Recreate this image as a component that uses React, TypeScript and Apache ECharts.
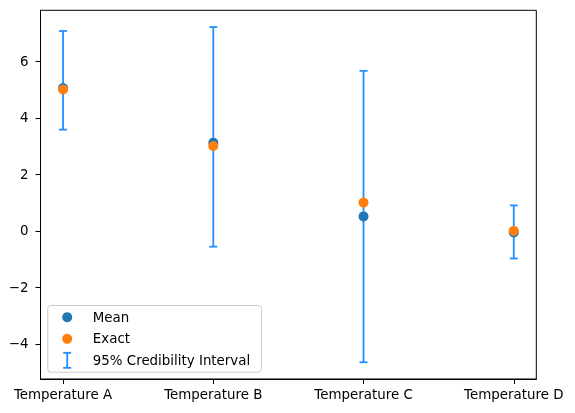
import React, { useEffect, useRef } from 'react';
import * as echarts from 'echarts';

const categories = ['Temperature A', 'Temperature B', 'Temperature C', 'Temperature D'];
const meanValues = [5.05, 3.12, 0.51, -0.06];
const exactValues = [5.0, 3.0, 1.0, 0.0];
const lowerBounds = [3.58, -0.56, -4.65, -0.98];
const upperBounds = [7.07, 7.21, 5.66, 0.9];
const yTicks = [-4, -2, 0, 2, 4, 6];
const legendLabels = ['Mean', 'Exact', '95% Credibility Interval'];

const FONT = '"DejaVu Sans", sans-serif';
const ERR_COLOR = '#1e90ff';
const MEAN_COLOR = '#1f77b4';
const EXACT_COLOR = '#ff7f0e';

export default function App() {
  const ref = useRef<HTMLDivElement>(null);

  useEffect(() => {
    if (!ref.current) return;
    const chart = echarts.init(ref.current, null, { renderer: 'svg' });

    // matplotlib-style 5% margins around the data
    const yLo = Math.min(...lowerBounds);
    const yHi = Math.max(...upperBounds);
    const pad = (yHi - yLo) * 0.05;

    const errData = categories.map((_, i) => [i, lowerBounds[i], upperBounds[i]]);
    const axisLine = { show: true, onZero: false, lineStyle: { color: '#000', width: 1 } };

    chart.setOption({
      animation: false,
      grid: {
        left: 40.5, right: 38.7, top: 10.3, bottom: 34,
        show: true, borderColor: '#000', borderWidth: 1, backgroundColor: 'transparent',
      },
      xAxis: {
        type: 'value', min: -0.15, max: categories.length - 1 + 0.15,
        axisLine,
        splitLine: { show: false },
        axisTick: { show: true, length: 5, lineStyle: { color: '#000', width: 1 }, customValues: categories.map((_, i) => i) },
        axisLabel: {
          customValues: categories.map((_, i) => i),
          formatter: (v: number) => categories[Math.round(v)] ?? '',
          color: '#000', fontFamily: FONT, fontSize: 13.4, margin: 9,
        },
      },
      yAxis: {
        type: 'value', min: yLo - pad, max: yHi + pad,
        axisLine,
        splitLine: { show: false },
        axisTick: { show: true, length: 5, lineStyle: { color: '#000', width: 1 }, customValues: yTicks },
        axisLabel: {
          customValues: yTicks,
          formatter: (v: number) => String(v).replace('-', '\u2212'),
          color: '#000', fontFamily: FONT, fontSize: 13.4, margin: 12,
        },
      },
      series: [
        {
          name: legendLabels[2],
          type: 'custom',
          z: 1,
          data: errData,
          encode: { x: 0, y: [1, 2] },
          renderItem: (params: any, api: any) => {
            const x = api.value(0);
            const lo = api.coord([x, api.value(1)]);
            const hi = api.coord([x, api.value(2)]);
            const cap = 4;
            const style = { stroke: ERR_COLOR, lineWidth: 1.8 };
            return {
              type: 'group',
              children: [
                { type: 'line', shape: { x1: lo[0], y1: lo[1], x2: hi[0], y2: hi[1] }, style },
                { type: 'line', shape: { x1: lo[0] - cap, y1: lo[1], x2: lo[0] + cap, y2: lo[1] }, style },
                { type: 'line', shape: { x1: hi[0] - cap, y1: hi[1], x2: hi[0] + cap, y2: hi[1] }, style },
              ],
            };
          },
        },
        {
          name: legendLabels[0],
          type: 'scatter',
          z: 2,
          symbol: 'circle',
          symbolSize: 10,
          itemStyle: { color: MEAN_COLOR, opacity: 1 },
          data: meanValues.map((v, i) => [i, v]),
        },
        {
          name: legendLabels[1],
          type: 'scatter',
          z: 3,
          symbol: 'circle',
          symbolSize: 10,
          itemStyle: { color: EXACT_COLOR, opacity: 1 },
          data: exactValues.map((v, i) => [i, v]),
        },
      ],
      graphic: [
        {
          type: 'group',
          left: 47.3,
          top: 305,
          z: 100,
          children: [
            { type: 'rect', shape: { x: 0, y: 0, width: 213.7, height: 66.7, r: 3 }, style: { fill: 'rgba(255,255,255,0.8)', stroke: '#cccccc', lineWidth: 1 } },
            { type: 'circle', shape: { cx: 19.4, cy: 11.7, r: 5 }, style: { fill: MEAN_COLOR } },
            { type: 'circle', shape: { cx: 19.4, cy: 33.3, r: 5 }, style: { fill: EXACT_COLOR } },
            { type: 'line', shape: { x1: 19.4, y1: 47.3, x2: 19.4, y2: 62.3 }, style: { stroke: ERR_COLOR, lineWidth: 1.8 } },
            { type: 'line', shape: { x1: 15.4, y1: 47.3, x2: 23.4, y2: 47.3 }, style: { stroke: ERR_COLOR, lineWidth: 1.8 } },
            { type: 'line', shape: { x1: 15.4, y1: 62.3, x2: 23.4, y2: 62.3 }, style: { stroke: ERR_COLOR, lineWidth: 1.8 } },
            ...legendLabels.map((t, i) => ({
              type: 'text',
              x: 45,
              y: 11.7 + i * 21.5,
              style: { text: t, fill: '#000', font: `13.4px ${FONT}`, verticalAlign: 'middle', align: 'left' },
            })),
          ],
        },
      ],
    });

    return () => { chart.dispose(); };
  }, []);

  return <div ref={ref} style={{ position: 'fixed', left: 0, top: 0, width: 575, height: 413 }} />;
}
